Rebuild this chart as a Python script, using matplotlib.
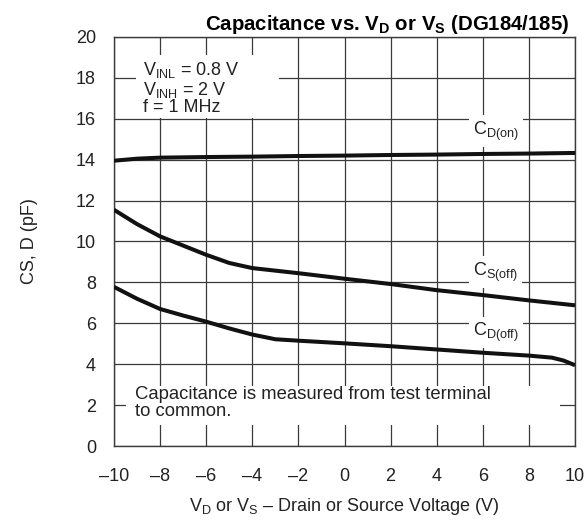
"""Capacitance vs. drain/source voltage for DG184/185."""
import matplotlib
matplotlib.use("Agg")
import matplotlib.pyplot as plt
from matplotlib.patches import Rectangle

plt.rcParams["font.family"] = ["Liberation Sans", "DejaVu Sans"]
plt.rcParams["mathtext.fontset"] = "custom"
plt.rcParams["mathtext.rm"] = "Liberation Sans"
plt.rcParams["mathtext.it"] = "Liberation Sans"
plt.rcParams["mathtext.bf"] = "Liberation Sans:bold"

# values
V_D_ON = [-10, -9, -8, -6, -4, -2, 0, 2, 4, 6, 8, 10]
C_D_ON = [13.95, 14.05, 14.1, 14.13, 14.15, 14.18, 14.2, 14.23, 14.25, 14.28, 14.3, 14.33]

V_S_OFF = [-10, -9, -8, -7, -6, -5, -4, -2, 0, 2, 4, 6, 8, 10]
C_S_OFF = [11.55, 10.85, 10.25, 9.8, 9.35, 8.95, 8.7, 8.45, 8.18, 7.92, 7.62, 7.38, 7.12, 6.88]

V_D_OFF = [-10, -9, -8, -7, -6, -5, -4, -3, -2, 0, 2, 4, 6, 8, 9, 9.5, 10]
C_D_OFF = [7.78, 7.2, 6.7, 6.38, 6.08, 5.75, 5.45, 5.22, 5.15, 5.02, 4.88, 4.72, 4.56, 4.42, 4.32, 4.18, 3.95]

X_TICKS = [-10, -8, -6, -4, -2, 0, 2, 4, 6, 8, 10]
Y_TICKS = [0, 2, 4, 6, 8, 10, 12, 14, 16, 18, 20]

FS = 13


def run() -> None:
    fig = plt.figure(figsize=(5.87, 5.27), dpi=100)
    ax = fig.add_axes([0.1942, 0.1537, 0.7854, 0.7761])

    for xs, ys in [(V_D_ON, C_D_ON), (V_S_OFF, C_S_OFF), (V_D_OFF, C_D_OFF)]:
        ax.plot(xs, ys, color="#111111", lw=2.9, solid_capstyle="butt", zorder=3)

    ax.set_xlim(-10, 10)
    ax.set_ylim(0, 20)
    ax.set_xticks(X_TICKS)
    ax.set_xticklabels([str(t).replace("-", "\u2013") for t in X_TICKS])
    ax.set_yticks(Y_TICKS)
    ax.tick_params(length=0, labelsize=FS, colors="#222222")
    ax.tick_params(axis="y", pad=13)
    ax.tick_params(axis="x", pad=16)
    ax.grid(True, color="#3a3a3a", lw=0.9)
    for s in ax.spines.values():
        s.set_color("#3a3a3a")
        s.set_linewidth(1.0)

    # white areas that blank the grid behind the notes
    ax.add_patch(Rectangle((-9.05, 16.05), 6.2, 3.05, facecolor="white",
                           edgecolor="none", zorder=2.5))
    ax.add_patch(Rectangle((-9.5, 1.05), 18.85, 1.9, facecolor="white",
                           edgecolor="none", zorder=2.5))

    ax.text(-8.74, 17.5, "V$_{\\mathrm{INL}}$ = 0.8 V\nV$_{\\mathrm{INH}}$ = 2 V\nf = 1 MHz",
            fontsize=FS, va="center", ha="left", linespacing=0.95, zorder=4, color="#222222")
    white = dict(facecolor="white", edgecolor="none", pad=3)
    ax.text(5.57, 15.4, "C$_{\\mathrm{D(on)}}$", fontsize=FS, va="center", zorder=4,
            bbox=white, color="#222222")
    ax.text(5.57, 8.5, "C$_{\\mathrm{S(off)}}$", fontsize=FS, va="center", zorder=4,
            bbox=white, color="#222222")
    ax.text(5.57, 5.55, "C$_{\\mathrm{D(off)}}$", fontsize=FS, va="center", zorder=4,
            bbox=white, color="#222222")
    ax.text(-9.09, 2.1, "Capacitance is measured from test terminal\nto common.",
            fontsize=13.3, va="center", ha="left", linespacing=1.0, zorder=4, color="#222222")

    ax.set_xlabel("V$_{\\mathrm{D}}$ or V$_{\\mathrm{S}}$ \u2013 Drain or Source Voltage (V)",
                  fontsize=FS, labelpad=8, color="#222222")
    ax.set_ylabel("CS, D (pF)", fontsize=FS, labelpad=27, color="#222222")
    ax.set_title("Capacitance vs. V$_{\\mathbf{D}}$ or V$_{\\mathbf{S}}$ (DG184/185)",
                 fontsize=14.7, fontweight="bold", pad=5, x=0.593)

    fig.savefig("out.png", dpi=100)
    plt.close(fig)


if __name__ == "__main__":
    run()
